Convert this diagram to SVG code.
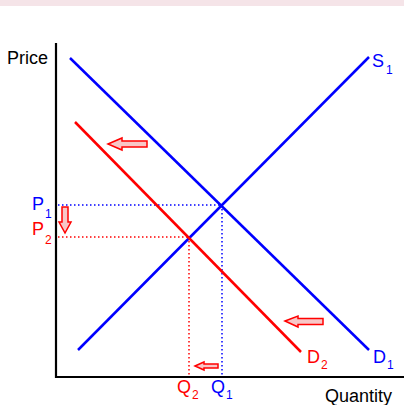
<svg xmlns="http://www.w3.org/2000/svg" width="404" height="405" viewBox="0 0 404 405">
<style>
text{font-family:"Liberation Sans",Arial,sans-serif;}
.lbl{font-size:18px;}
.sub{font-size:12px;}
.blue{fill:#0000ff;}
.red{fill:#ff0000;}
.axis{stroke:#000;stroke-width:2.2;fill:none;}
.bl{stroke:#0000ff;stroke-width:2.5;fill:none;}
.rl{stroke:#ff0000;stroke-width:2.5;fill:none;}
.bd{stroke:#0000ff;stroke-width:1.5;stroke-dasharray:1.5 2.5;fill:none;}
.rd{stroke:#ff0000;stroke-width:1.5;stroke-dasharray:1.5 2.5;fill:none;}
.arr{fill:#f8c6c6;stroke:#ff0000;stroke-width:1.5;stroke-linejoin:miter;}
</style>
<rect x="0" y="0" width="404" height="6" fill="#f5e4e8"/>
<g id="axes">
<line class="axis" x1="56" y1="43" x2="56" y2="378"/>
<line class="axis" x1="55" y1="377" x2="404" y2="377"/>
<text class="lbl" x="7" y="64">Price</text>
<text class="lbl" x="325" y="402">Quantity</text>
</g>
<g id="connectors">
<line class="bd" x1="58" y1="205" x2="222" y2="205"/>
<line class="bd" x1="222" y1="205" x2="222" y2="376"/>
<line class="rd" x1="58" y1="237" x2="189" y2="237"/>
<line class="rd" x1="189" y1="237" x2="189" y2="376"/>
</g>
<g id="D1">
<line class="bl" x1="70" y1="58" x2="369" y2="350"/>
<text class="lbl blue" x="373" y="363">D</text><text class="sub blue" x="387" y="369">1</text>
</g>
<g id="S1">
<line class="bl" x1="78" y1="350" x2="369" y2="57"/>
<text class="lbl blue" x="372" y="67">S</text><text class="sub blue" x="386" y="74">1</text>
</g>
<g id="D2">
<line class="rl" x1="75" y1="122" x2="301" y2="352"/>
<text class="lbl red" x="307" y="363">D</text><text class="sub red" x="321" y="369">2</text>
</g>
<g id="P1"><text class="lbl blue" x="32" y="210">P</text><text class="sub blue" x="45" y="218">1</text></g>
<g id="P2"><text class="lbl red" x="32" y="235">P</text><text class="sub red" x="45" y="244">2</text></g>
<g id="Q2"><text class="lbl red" x="177" y="393">Q</text><text class="sub red" x="192" y="399">2</text></g>
<g id="Q1"><text class="lbl blue" x="211" y="393">Q</text><text class="sub blue" x="226" y="399">1</text></g>
<g id="arrows">
<polygon class="arr" points="108,144 122,138 122,141 147,141 147,147 122,147 122,150"/>
<polygon class="arr" points="285,321 298,316 298,318.5 323,318.5 323,324.5 298,324.5 298,327"/>
<polygon class="arr" points="195,366 204,362 204,364 218,364 218,368 204,368 204,370"/>
<polygon class="arr" points="65,233 59,222 62,222 62,207 68,207 68,222 71,222"/>
</g>
</svg>
